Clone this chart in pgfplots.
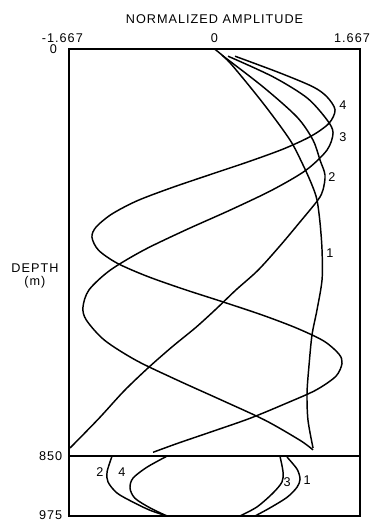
\documentclass[border=0pt]{standalone}
\usepackage{fontspec}
\setmainfont{Liberation Sans}[LetterSpace=8]
\usepackage{pgfplots}
\pgfplotsset{compat=1.18}

\begin{document}
\begin{tikzpicture}
\path[use as bounding box] (-51.75pt,-3pt) rectangle (229.5pt,387pt);
\begin{axis}[
    scale only axis,
    width=218.25pt, height=350.25pt,
    xmin=-1.667, xmax=1.667,
    ymin=0, ymax=975,
    y dir=reverse,
    clip=false,
    axis line style={line width=1.1pt},
    major tick length=0pt,
    xtick={-1.667,0,1.667},
    xticklabels={{-1.667\kern10pt}, 0, {1.667\kern12pt}},
    xticklabel pos=top,
    ytick={0,850,975},
    yticklabels={{0\kern4pt}, 850, {\raisebox{2pt}{975}}},
    tick label style={font=\fontsize{9.5}{10}\selectfont},
    xticklabel style={anchor=base, yshift=5.25pt},
    yticklabel style={xshift=-1.5pt},
    xlabel={NORMALIZED AMPLITUDE},
    xlabel style={font=\fontsize{9.5}{10}\selectfont},
    mode/.style={black, solid, line width=1.1pt, smooth},
]
% mode 1
\addplot[mode] coordinates {(0.000,0) (0.178,29) (0.556,113) (0.865,190) (1.014,242)
  (1.117,284) (1.174,315) (1.209,363) (1.232,420) (1.232,482) (1.174,545)
  (1.117,597) (1.083,660) (1.060,718) (1.071,775) (1.129,833)};
% mode 2
\addplot[mode] coordinates {(0.086,13) (0.556,79) (0.945,142) (1.128,190) (1.209,232)
  (1.266,263) (1.243,294) (1.186,315) (0.980,361) (0.750,411) (0.498,462)
  (0.246,503) (0.017,543) (-0.212,581) (-0.487,622) (-0.762,666) (-1.037,714)
  (-1.323,771) (-1.655,833)};
% mode 3
\addplot[mode] coordinates {(0.155,15) (0.670,58) (1.060,102) (1.289,148) (1.358,175)
  (1.289,211) (1.048,253) (0.665,294) (0.183,336) (-0.332,378) (-0.812,420)
  (-1.197,462) (-1.438,503) (-1.507,539) (-1.468,566) (-1.260,608) (-0.899,650)
  (-0.430,691) (0.080,733) (0.579,775) (0.980,817) (1.129,837)};
% mode 4
\addplot[mode] coordinates {(0.235,15) (0.750,50) (1.129,79) (1.289,100) (1.381,127)
  (1.312,155) (1.106,182) (0.785,209) (0.378,236) (-0.063,263) (-0.498,290)
  (-0.888,317) (-1.180,345) (-1.358,372) (-1.404,393) (-1.329,420) (-1.117,447)
  (-0.779,474) (-0.361,501) (0.097,528) (0.556,556) (0.945,583) (1.255,610)
  (1.426,637) (1.461,656) (1.392,683) (1.163,712) (0.831,739) (0.407,771)
  (-0.017,798) (-0.418,823) (-0.704,842)};
% bottom layer
\addplot[black, line width=1.1pt] coordinates {(-1.667,850) (1.667,850)};
\addplot[mode] coordinates {(0.831,852) (0.945,877) (0.980,898) (0.945,915) (0.831,936)
  (0.636,958) (0.464,975)};
\addplot[mode] coordinates {(-1.174,850) (-1.231,883) (-1.220,904) (-1.117,927)
  (-0.934,946) (-0.739,963) (-0.544,975)};
\addplot[mode] coordinates {(0.750,850) (0.785,883) (0.773,904) (0.670,927) (0.487,956)
  (0.292,975)};
\addplot[mode] coordinates {(-0.544,850) (-0.773,873) (-0.934,896) (-0.968,917)
  (-0.911,938) (-0.739,958) (-0.544,975)};
% mode labels
\begin{scope}[every node/.style={font=\fontsize{9.5}{10}\selectfont}]
\node at (axis cs:1.472,117) {4};
\node at (axis cs:1.472,184) {3};
\node at (axis cs:1.346,267) {2};
\node at (axis cs:1.323,426) {1};
\node at (axis cs:-1.312,883) {2};
\node at (axis cs:-1.060,883) {4};
\node at (axis cs:0.831,904) {3};
\node at (axis cs:1.060,900) {1};
\node[align=center, inner sep=0pt] at (axis cs:-2.057,474) {DEPTH\\[-0.5pt](m)};
\end{scope}
\end{axis}
\end{tikzpicture}
\end{document}
